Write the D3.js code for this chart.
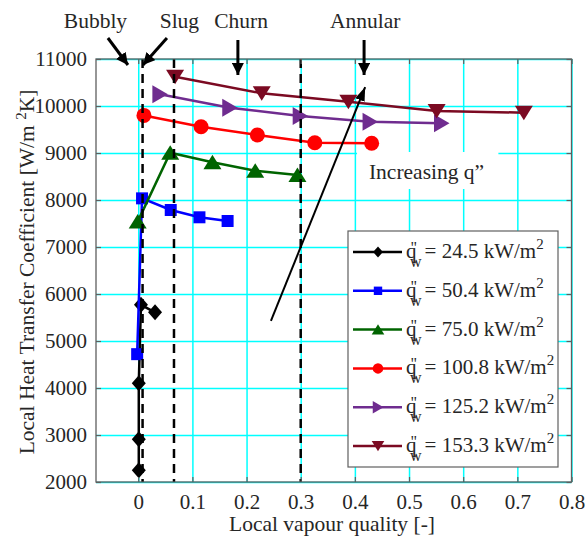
<!DOCTYPE html>
<html>
<head>
<meta charset="utf-8">
<script src="https://cdn.jsdelivr.net/npm/d3@7"></script>
<style>
body { margin: 0; background: #fff; }
text { font-family: "Liberation Serif", "Times New Roman", serif; fill: #262626; }
</style>
</head>
<body>
<div id="chart"></div>
<script>
// heat flux of each series [kW/m2]
const heatFluxLabels = ['24.5', '50.4', '75.0', '100.8', '125.2', '153.3'];
const seriesColors = ['#000000', '#0000ff', '#006400', '#ff0000', '#6f2c8f', '#7b0a22'];

// local vapour quality / local HTC
const quality245 = [0.001, 0.001, 0.001, 0.005, 0.031];
const htc245 = [2250, 2910, 4100, 5770, 5610];
const quality504 = [-0.002, 0.007, 0.060, 0.113, 0.165];
const htc504 = [4720, 8035, 7787, 7632, 7553];
const quality750 = [-0.001, 0.059, 0.137, 0.216, 0.294];
const htc750 = [7540, 9005, 8802, 8624, 8532];
const quality1008 = [0.0105, 0.116, 0.220, 0.326, 0.431];
const htc1008 = [9800, 9560, 9383, 9217, 9206];
const quality1252 = [0.040, 0.169, 0.299, 0.428, 0.560];
const htc1252 = [10249, 9964, 9787, 9666, 9631];
const quality1533 = [0.068, 0.228, 0.388, 0.551, 0.712];
const htc1533 = [10623, 10270, 10092, 9894, 9858];

// flow regime boundaries (dashed lines)
const regimeBounds = [0.008, 0.066, 0.3];
const regimeNames = ['Bubbly', 'Slug', 'Churn', 'Annular'];
const regimeLabelX = [-0.079, 0.076, 0.190, 0.419];

const xTickValues = [0, 0.1, 0.2, 0.3, 0.4, 0.5, 0.6, 0.7, 0.8];
const xTickLabels = ['0', '0.1', '0.2', '0.3', '0.4', '0.5', '0.6', '0.7', '0.8'];
const yTickValues = [2000, 3000, 4000, 5000, 6000, 7000, 8000, 9000, 10000, 11000];

const width = 585, height = 541;
const margin = {left: 96, right: 13.5, top: 59, bottom: 59};
const innerW = width - margin.left - margin.right;
const innerH = height - margin.top - margin.bottom;

const svg = d3.select('#chart').append('svg')
    .attr('width', width)
    .attr('height', height);

const defs = svg.append('defs');
defs.append('marker')
    .attr('id', 'headSmall')
    .attr('markerUnits', 'userSpaceOnUse')
    .attr('viewBox', '0 0 12 12')
    .attr('refX', 12).attr('refY', 6)
    .attr('markerWidth', 12).attr('markerHeight', 12)
    .attr('orient', 'auto')
    .append('path').attr('d', 'M0,0L12,6L0,12Z').attr('fill', '#000');
defs.append('marker')
    .attr('id', 'headBig')
    .attr('markerUnits', 'userSpaceOnUse')
    .attr('viewBox', '0 0 14 10')
    .attr('refX', 14).attr('refY', 5)
    .attr('markerWidth', 14).attr('markerHeight', 10)
    .attr('orient', 'auto')
    .append('path').attr('d', 'M0,0L14,5L0,10Z').attr('fill', '#000');

const g = svg.append('g')
    .attr('transform', `translate(${margin.left},${margin.top})`);

// scales
const x = d3.scaleLinear().domain([-0.078, 0.8]).range([0, innerW]);
const y = d3.scaleLinear().domain([2000, 11000]).range([innerH, 0]);

// cyan grid
g.append('g')
    .attr('transform', `translate(0,${innerH})`)
    .call(d3.axisBottom(x).tickValues(xTickValues).tickSize(-innerH).tickFormat(''))
    .call(a => a.select('.domain').remove())
    .selectAll('line').attr('stroke', '#00ffff').attr('stroke-width', 1.5);
g.append('g')
    .call(d3.axisLeft(y).tickValues(yTickValues).tickSize(-innerW).tickFormat(''))
    .call(a => a.select('.domain').remove())
    .selectAll('line').attr('stroke', '#00ffff').attr('stroke-width', 1.5);

// marker shapes (scaled by k)
const shapes = [
    {draw(c, k) { c.moveTo(0, -8 * k); c.lineTo(7 * k, 0); c.lineTo(0, 8 * k); c.lineTo(-7 * k, 0); c.closePath(); }},
    {draw(c, k) { c.rect(-6 * k, -6 * k, 12 * k, 12 * k); }},
    {draw(c, k) { c.moveTo(0, -7.5 * k); c.lineTo(9 * k, 7 * k); c.lineTo(-9 * k, 7 * k); c.closePath(); }},
    {draw(c, k) { c.moveTo(7.5 * k, 0); c.arc(0, 0, 7.5 * k, 0, 2 * Math.PI); }},
    {draw(c, k) { c.moveTo(8 * k, 0); c.lineTo(-7.5 * k, -9 * k); c.lineTo(-7.5 * k, 9 * k); c.closePath(); }},
    {draw(c, k) { c.moveTo(0, 7.5 * k); c.lineTo(9 * k, -7 * k); c.lineTo(-9 * k, -7 * k); c.closePath(); }}
];

const seriesX = [quality245, quality504, quality750, quality1008, quality1252, quality1533];
const seriesY = [htc245, htc504, htc750, htc1008, htc1252, htc1533];
const series = heatFluxLabels.map((label, i) => ({
    label: label,
    color: seriesColors[i],
    shape: shapes[i],
    points: seriesX[i].map((q, j) => ({q: q, h: seriesY[i][j]}))
}));

const line = d3.line().x(d => x(d.q)).y(d => y(d.h));

series.forEach(s => {
    const sg = g.append('g');
    sg.append('path')
        .attr('d', line(s.points))
        .attr('fill', 'none')
        .attr('stroke', s.color)
        .attr('stroke-width', 2.5);
    sg.selectAll('path.pt')
        .data(s.points)
        .enter().append('path')
        .attr('class', 'pt')
        .attr('transform', d => `translate(${x(d.q)},${y(d.h)})`)
        .attr('d', d3.symbol().type(s.shape).size(1))
        .attr('fill', s.color);
});

// regime boundaries
g.selectAll('line.regime')
    .data(regimeBounds)
    .enter().append('line')
    .attr('class', 'regime')
    .attr('x1', d => x(d)).attr('x2', d => x(d))
    .attr('y1', 0).attr('y2', innerH)
    .attr('stroke', '#000')
    .attr('stroke-width', 2.5)
    .attr('stroke-dasharray', '9,6');

// axes frame and inward ticks
const axisColor = '#5f5f5f';
const xAxis = g.append('g')
    .attr('transform', `translate(0,${innerH})`)
    .call(d3.axisBottom(x).tickValues(xTickValues).tickSizeInner(-5).tickSizeOuter(0)
        .tickPadding(12).tickFormat((d, i) => xTickLabels[i]));
const yAxis = g.append('g')
    .call(d3.axisLeft(y).tickValues(yTickValues).tickSizeInner(-5).tickSizeOuter(0)
        .tickPadding(9).tickFormat(d3.format('d')));
const xTop = g.append('g')
    .call(d3.axisTop(x).tickValues(xTickValues).tickSizeInner(-5).tickSizeOuter(0).tickFormat(''));
const yRight = g.append('g')
    .attr('transform', `translate(${innerW},0)`)
    .call(d3.axisRight(y).tickValues(yTickValues).tickSizeInner(-5).tickSizeOuter(0).tickFormat(''));
[xAxis, yAxis, xTop, yRight].forEach(a => {
    a.select('.domain').remove();
    a.selectAll('line').attr('stroke', axisColor).attr('stroke-width', 1.2);
    a.selectAll('text').attr('font-size', 21).attr('fill', '#262626')
        .style('font-family', '"Liberation Serif", "Times New Roman", serif');
});
g.append('rect')
    .attr('width', innerW).attr('height', innerH)
    .attr('fill', 'none')
    .attr('stroke', axisColor)
    .attr('stroke-width', 1.3);

// axis titles
svg.append('text')
    .attr('x', 332)
    .attr('y', 531)
    .attr('text-anchor', 'middle')
    .attr('font-size', 21.5)
    .text('Local vapour quality [-]');

const yTitle = svg.append('text')
    .attr('transform', 'translate(34,272) rotate(-90)')
    .attr('text-anchor', 'middle')
    .attr('font-size', 21.5);
yTitle.append('tspan').text('Local Heat Transfer Coefficient [W/m ');
yTitle.append('tspan').attr('dy', -8).attr('font-size', 15).text('2');
yTitle.append('tspan').attr('dy', 8).text('K]');

// legend
const legend = svg.append('g').attr('transform', 'translate(348,231)');
legend.append('rect')
    .attr('width', 210).attr('height', 236)
    .attr('fill', '#fff')
    .attr('stroke', axisColor)
    .attr('stroke-width', 1.2);
const entry = legend.selectAll('g.entry')
    .data(series)
    .enter().append('g')
    .attr('class', 'entry')
    .attr('transform', (d, i) => `translate(0,${21 + i * 38.8})`);
entry.append('line')
    .attr('x1', 5).attr('x2', 54)
    .attr('stroke', d => d.color)
    .attr('stroke-width', 2.5);
entry.append('path')
    .attr('transform', 'translate(30,0)')
    .attr('d', d => d3.symbol().type(d.shape).size(0.7)())
    .attr('fill', d => d.color);
// q''_w = ... kW/m^2 as one text with shifted tspans
const entryText = entry.append('text').attr('x', 58).attr('y', 6).attr('font-size', 21);
entryText.append('tspan').text('q');
entryText.append('tspan').attr('dx', -6).attr('dy', -5).attr('font-size', 16).text('"');
entryText.append('tspan').attr('dx', -7).attr('dy', 14).attr('font-size', 16).text('w');
entryText.append('tspan').attr('dx', 3).attr('dy', -9).text(d => `= ${d.label} kW/m`);
entryText.append('tspan').attr('dy', -9).attr('font-size', 15).text('2');

// "Increasing q''" label with white background
g.append('rect')
    .attr('x', x(0.404)).attr('y', y(9021))
    .attr('width', x(0.665) - x(0.404))
    .attr('height', y(8234) - y(9021))
    .attr('fill', '#fff');
g.append('text')
    .attr('x', x(0.426)).attr('y', y(8447))
    .attr('font-size', 21.5)
    .text('Increasing  q\u201D');

// arrow for increasing heat flux
g.append('line')
    .attr('x1', x(0.245)).attr('y1', y(5426))
    .attr('x2', x(0.419)).attr('y2', y(10404))
    .attr('stroke', '#000')
    .attr('stroke-width', 2)
    .attr('marker-end', 'url(#headBig)');

// regime labels and arrows
g.selectAll('text.regime')
    .data(regimeNames)
    .enter().append('text')
    .attr('class', 'regime')
    .attr('x', (d, i) => x(regimeLabelX[i]))
    .attr('y', y(11660))
    .attr('text-anchor', 'middle')
    .attr('font-size', 21.5)
    .text(d => d);

const regimeArrows = [
    [[-0.056, 11447], [-0.019, 10872]],
    [[0.053, 11447], [0.0087, 10872]],
    [[0.184, 11404], [0.184, 10660]],
    [[0.417, 11404], [0.417, 10660]]
];
g.selectAll('line.rarrow')
    .data(regimeArrows)
    .enter().append('line')
    .attr('class', 'rarrow')
    .attr('x1', d => x(d[0][0])).attr('y1', d => y(d[0][1]))
    .attr('x2', d => x(d[1][0])).attr('y2', d => y(d[1][1]))
    .attr('stroke', '#000')
    .attr('stroke-width', 3)
    .attr('marker-end', 'url(#headSmall)');
</script>
</body>
</html>
